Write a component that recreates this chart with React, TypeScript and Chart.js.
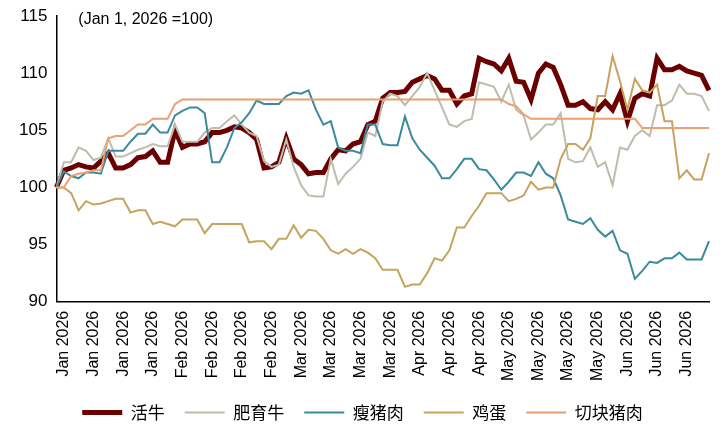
import React, { useEffect, useRef } from "react";
import { Chart, registerables } from "chart.js";
Chart.register(...registerables);

const weekLabels = ["Jan 2026","Jan 2026","Jan 2026","Jan 2026","Feb 2026","Feb 2026","Feb 2026","Feb 2026","Mar 2026","Mar 2026","Mar 2026","Mar 2026","Apr 2026","Apr 2026","Apr 2026","May 2026","May 2026","May 2026","May 2026","Jun 2026","Jun 2026","Jun 2026","Jun 2026"];
const seriesNames = ["活牛", "肥育牛", "瘦猪肉", "鸡蛋", "切块猪肉"];

const cattle = [100,101.5,101.7,102,101.8,101.7,102.3,103,101.7,101.7,102,102.6,102.7,103.2,102.2,102.2,105,103.5,103.8,103.8,104,104.8,104.8,105,105.3,105.2,104.8,104.2,101.7,101.8,102.2,104.3,102.5,102,101.2,101.3,101.3,102.5,103.3,103.2,103.8,104,105.5,105.8,107.8,108.3,108.3,108.4,109.2,109.5,109.8,109.5,108.5,108.5,107.3,108,108.2,111.3,111,110.8,110.2,111.3,109.3,109.2,107.7,110,110.8,110.5,109,107.2,107.2,107.5,106.9,106.8,107.5,106.8,108.2,105.8,107.8,108.2,108,111.3,110.3,110.3,110.6,110.2,110,109.8,108.5];
const feeder = [100,102.2,102.2,103.5,103.2,102.4,102.6,104.3,102.7,102.7,103,103.3,103.5,103.8,103.6,103.6,105.5,104,104,104,104.8,105.2,105.2,105.8,106.3,105.5,104.8,104.5,102.3,101.8,102,104.2,101.8,100.2,99.3,99.2,99.2,102.5,100.3,101.2,101.8,102.5,104.8,104.5,107.5,108.2,108,107.2,108,108.8,110,108.5,107,105.5,105.3,105.8,106,109.2,109,108.8,107.5,109,106.8,106.3,104.2,104.8,105.5,105.5,106.5,102.5,102.2,102.3,103.5,101.8,102.2,100.2,103.5,103.3,104.5,105,104.5,107.2,107.2,107.6,109,108.2,108.2,108,106.7];
const leanHog = [100,101.4,101,100.8,101.3,101.3,101.2,103.2,103.2,103.2,104,104.7,104.7,105.5,104.8,104.8,106.3,106.7,107,107,106.5,102.2,102.2,103.5,105.2,105.7,106.5,107.6,107.3,107.3,107.3,108,108.3,108.2,108.5,106.8,105.5,105.8,103.5,103.2,103.2,103,105.5,105.5,103.8,103.7,103.7,106.2,104.3,103.3,102.6,101.9,100.8,100.8,101.6,102.5,102.5,101.6,101.5,100.7,99.8,100.5,101.3,101.3,101,102.2,101.2,100.8,99.3,97.2,97,96.8,97.3,96.3,95.7,96.2,94.5,94.2,92,92.7,93.5,93.4,93.8,93.8,94.3,93.7,93.7,93.7,95.3];
const eggs = [100,100,99.5,98,98.8,98.5,98.6,98.8,99,99,97.8,98,98,96.8,97,96.8,96.6,97.2,97.2,97.2,96,96.8,96.8,96.8,96.8,96.8,95.2,95.3,95.3,94.6,95.5,95.5,96.7,95.6,96.3,96.2,95.5,94.5,94.2,94.6,94.2,94.6,94.3,93.8,92.8,92.8,92.8,91.3,91.5,91.5,92.5,93.8,93.6,94.5,96.5,96.5,97.5,98.4,99.5,99.5,99.5,98.8,99,99.3,100.5,99.8,100,100,102.5,103.8,103.8,103.3,104.3,108,108,111.5,109.3,106.8,109.5,108.5,108.3,109,105.8,105.8,100.8,101.5,100.7,100.7,103];
const cutout = [100,100,101,101.2,101.3,101.5,101.5,104.3,104.5,104.5,105,105.5,105.5,106,106,106,107.3,107.7,107.7,107.7,107.7,107.7,107.7,107.7,107.7,107.7,107.7,107.7,107.7,107.7,107.7,107.7,107.7,107.7,107.7,107.7,107.7,107.7,107.7,107.7,107.7,107.7,107.7,107.7,107.7,107.7,107.7,107.7,107.7,107.7,107.7,107.7,107.7,107.7,107.7,107.7,107.7,107.7,107.7,107.7,107.7,107.3,107.1,106.4,106,106,106,106,106,106,106,106,106,106,106,106,106,106,106,105.2,105.2,105.2,105.2,105.2,105.2,105.2,105.2,105.2,105.2];
const yTicks = [90, 95, 100, 105, 110, 115];

const PER_WEEK = 4;
const OFFSET = 1;

export default function App() {
  const ref = useRef<HTMLCanvasElement>(null);
  useEffect(() => {
    document.body.style.margin = "0";
    const labels = cattle.map((_, i) => {
      const w = Math.floor((i - OFFSET) / PER_WEEK);
      return (i - OFFSET) % PER_WEEK === 0 && w >= 0 && w < weekLabels.length ? weekLabels[w] : "";
    });
    const titlePlugin = {
      id: "title2",
      afterDraw(c: any) {
        const ctx = c.ctx;
        ctx.save();
        ctx.font = "16px 'Liberation Sans', Arial, sans-serif";
        ctx.fillStyle = "#000";
        ctx.textBaseline = "middle";
        ctx.fillText("(Jan 1, 2026 =100)", c.chartArea.left + 22, 20);
        ctx.restore();
      },
    };
    const mk = (label: string, data: number[], color: string, w: number) => ({
      label, data, borderColor: color, backgroundColor: color, borderWidth: w,
      pointRadius: 0, tension: 0, fill: false,
    });
    const chart = new Chart(ref.current!, {
      type: "line",
      data: {
        labels,
        datasets: [
          mk(seriesNames[4], cutout, "#e9a072", 2),
          mk(seriesNames[3], eggs, "#c6a35e", 2),
          mk(seriesNames[2], leanHog, "#3b8a9e", 2),
          mk(seriesNames[1], feeder, "#bebdad", 2),
          mk(seriesNames[0], cattle, "#6a0000", 5),
        ],
      },
      options: {
        animation: false,
        responsive: false,
        layout: { padding: { left: 16, right: 14, top: 16, bottom: 14 } },
        plugins: {
          tooltip: { enabled: false },
          legend: {
            position: "bottom",
            reverse: true,
            labels: {
              usePointStyle: true,
              pointStyle: "line",
              pointStyleWidth: 40,
              font: { size: 17, family: "'Noto Sans CJK SC', sans-serif" },
              color: "#000",
              padding: 20,
            },
          },
        },
        scales: {
          x: {
            offset: false,
            grid: { display: false, drawTicks: true, tickLength: 6, color: "#000" } as any,
            border: { color: "#000", width: 1.5 },
            ticks: {
              autoSkip: false,
              maxRotation: 90,
              minRotation: 90,
              color: "#000",
              font: { size: 16, family: "'Liberation Sans', Arial, sans-serif" },
              callback: (_v: any, i: number) => labels[i] || null,
            },
          },
          y: {
            min: 90,
            max: 115,
            afterBuildTicks: (s: any) => { s.ticks = yTicks.map((v) => ({ value: v })); },
            grid: { display: false, drawTicks: true, tickLength: 6 } as any,
            border: { color: "#000", width: 1.5 },
            ticks: { color: "#000", font: { size: 17, family: "'Liberation Sans', Arial, sans-serif" } },
          },
        },
      },
      plugins: [titlePlugin],
    });
    return () => chart.destroy();
  }, []);
  return <canvas ref={ref} width={723} height={445} style={{ display: "block" }} />;
}
